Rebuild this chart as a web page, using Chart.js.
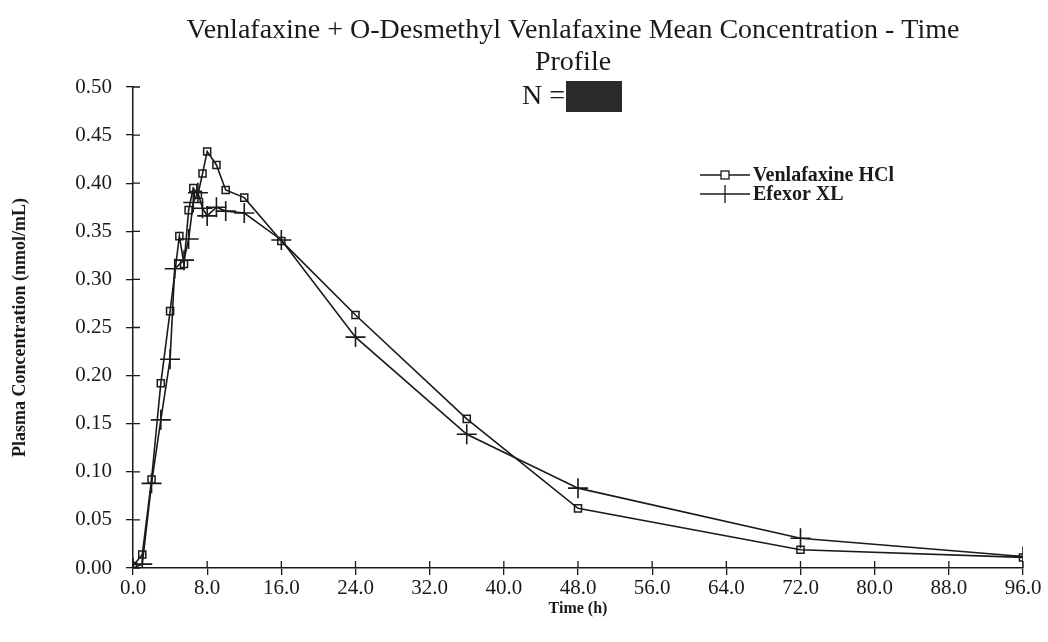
<!DOCTYPE html>
<html>
<head>
<meta charset="utf-8">
<script src="https://cdn.jsdelivr.net/npm/chart.js@4.4.1/dist/chart.umd.min.js"></script>
<style>
  html, body { margin: 0; padding: 0; background: #fff; }
  #wrap { width: 1048px; height: 642px; position: relative; }
</style>
</head>
<body>
<div id="wrap"><canvas id="pkChart" width="1048" height="642"></canvas></div>
<script>
// valori (tempo in ore, concentrazione in nmol/mL)
const timesHcl = [0, 1, 2, 3, 4, 5, 5.5, 6, 6.5, 7, 7.5, 8, 9, 10, 12, 16, 24, 36, 48, 72, 96];
const concHcl  = [0.002, 0.014, 0.092, 0.192, 0.267, 0.345, 0.316, 0.372, 0.395, 0.388, 0.410, 0.433, 0.419, 0.393, 0.385, 0.340, 0.263, 0.155, 0.062, 0.019, 0.011];

const timesXl = [0, 1, 2, 3, 4, 4.5, 5.5, 6, 6.5, 7, 7.5, 8, 9, 10, 12, 16, 24, 36, 48, 72, 96];
const concXl  = [0.000, 0.004, 0.088, 0.154, 0.217, 0.311, 0.320, 0.342, 0.380, 0.390, 0.374, 0.366, 0.375, 0.371, 0.369, 0.341, 0.240, 0.139, 0.083, 0.031, 0.012];

const seriesNames = ['Venlafaxine HCl', 'Efexor XL'];
const titleLines = ['Venlafaxine + O-Desmethyl Venlafaxine Mean Concentration - Time', 'Profile', 'N ='];

const xTicks = [0, 8, 16, 24, 32, 40, 48, 56, 64, 72, 80, 88, 96];
const yTicks = [0, 0.05, 0.10, 0.15, 0.20, 0.25, 0.30, 0.35, 0.40, 0.45, 0.50];

const SERIF = '"Liberation Serif", "DejaVu Serif", serif';
const INK = '#1a1a1a';

function toPoints(xs, ys) {
    return xs.map((x, i) => ({ x: x, y: ys[i] }));
}

// titolo su tre righe con il riquadro nero dopo "N ="
const titlePlugin = {
    id: 'titleBlock',
    afterDraw(chart) {
        const ctx = chart.ctx;
        const cx = 573;
        ctx.save();
        ctx.fillStyle = INK;
        ctx.font = '28px ' + SERIF;
        ctx.textAlign = 'center';
        ctx.textBaseline = 'middle';
        ctx.fillText(titleLines[0], cx, 31);
        ctx.fillText(titleLines[1], cx, 63);
        ctx.textAlign = 'right';
        ctx.fillText(titleLines[2], cx - 8, 97);
        ctx.fillStyle = '#2b2b2b';
        ctx.fillRect(cx - 7, 81, 56, 31);
        ctx.restore();
    }
};

// tacche interne sugli assi (le tacche attraversano la linea)
const innerTicks = {
    id: 'innerTicks',
    afterDraw(chart) {
        const ctx = chart.ctx;
        const xs = chart.scales.x, ys = chart.scales.y;
        const a = chart.chartArea;
        ctx.save();
        ctx.strokeStyle = INK;
        ctx.lineWidth = 1.3;
        ctx.beginPath();
        xTicks.forEach(v => {
            const px = xs.getPixelForValue(v);
            ctx.moveTo(px, a.bottom);
            ctx.lineTo(px, a.bottom - 7);
        });
        yTicks.forEach(v => {
            const py = ys.getPixelForValue(v);
            ctx.moveTo(a.left, py);
            ctx.lineTo(a.left + 7, py);
        });
        ctx.stroke();
        ctx.restore();
    }
};

// legenda disegnata a mano: linea con simbolo al centro
const legendPlugin = {
    id: 'lineLegend',
    afterDraw(chart) {
        const ctx = chart.ctx;
        const x0 = 700, x1 = 750, y0 = 175, dy = 19;
        ctx.save();
        ctx.strokeStyle = INK;
        ctx.fillStyle = INK;
        ctx.lineWidth = 1.3;
        ctx.font = 'bold 20px ' + SERIF;
        ctx.textBaseline = 'middle';
        seriesNames.forEach((name, i) => {
            const y = y0 + i * dy;
            const mx = (x0 + x1) / 2;
            ctx.beginPath();
            ctx.moveTo(x0, y);
            ctx.lineTo(x1, y);
            ctx.stroke();
            ctx.beginPath();
            if (i === 0) {
                ctx.fillStyle = '#fff';
                ctx.fillRect(mx - 4, y - 4, 8, 8);
                ctx.strokeRect(mx - 4, y - 4, 8, 8);
                ctx.fillStyle = INK;
            } else {
                ctx.moveTo(mx, y - 9);
                ctx.lineTo(mx, y + 9);
                ctx.stroke();
            }
            ctx.fillText(name, x1 + 3, y + 1);
        });
        ctx.restore();
    }
};

const ctx = document.getElementById('pkChart').getContext('2d');
new Chart(ctx, {
    type: 'scatter',
    data: {
        datasets: [
            {
                label: seriesNames[0],
                data: toPoints(timesHcl, concHcl),
                showLine: true,
                borderColor: INK,
                borderWidth: 1.6,
                pointStyle: 'rect',
                pointRadius: 5,
                pointBorderWidth: 1.5,
                pointBackgroundColor: 'rgba(255,255,255,0)',
                pointBorderColor: INK
            },
            {
                label: seriesNames[1],
                data: toPoints(timesXl, concXl),
                showLine: true,
                borderColor: INK,
                borderWidth: 1.6,
                pointStyle: 'cross',
                pointRadius: 10,
                pointBorderWidth: 1.6,
                pointBorderColor: INK
            }
        ]
    },
    options: {
        responsive: false,
        animation: false,
        layout: { padding: { top: 87, right: 25, left: 8, bottom: 24 } },
        plugins: {
            legend: { display: false },
            tooltip: { enabled: false }
        },
        scales: {
            x: {
                type: 'linear',
                min: 0,
                max: 96,
                afterBuildTicks: s => { s.ticks = xTicks.map(v => ({ value: v })); },
                afterFit: s => { s.height = 50; },
                ticks: {
                    color: INK,
                    font: { family: SERIF, size: 21 },
                    padding: 1,
                    maxRotation: 0,
                    callback: v => v.toFixed(1)
                },
                grid: { drawOnChartArea: false, drawTicks: true, tickLength: 7, color: INK, lineWidth: 1.3 },
                border: { color: INK, width: 1.5 },
                title: {
                    display: true,
                    text: 'Time (h)',
                    color: INK,
                    font: { family: SERIF, size: 16, weight: 'bold' },
                    padding: { top: 0, bottom: 0 }
                }
            },
            y: {
                type: 'linear',
                min: 0,
                max: 0.5,
                afterBuildTicks: s => { s.ticks = yTicks.map(v => ({ value: v })); },
                afterFit: s => { s.width = 125; },
                ticks: {
                    color: INK,
                    font: { family: SERIF, size: 21 },
                    padding: 14,
                    callback: v => v.toFixed(2)
                },
                grid: { drawOnChartArea: false, drawTicks: true, tickLength: 7, color: INK, lineWidth: 1.3 },
                border: { color: INK, width: 1.5 },
                title: {
                    display: true,
                    text: 'Plasma Concentration (nmol/mL)',
                    color: INK,
                    font: { family: SERIF, size: 18, weight: 'bold' },
                    padding: { top: 2, bottom: 0 }
                }
            }
        }
    },
    plugins: [titlePlugin, innerTicks, legendPlugin]
});
</script>
</body>
</html>
